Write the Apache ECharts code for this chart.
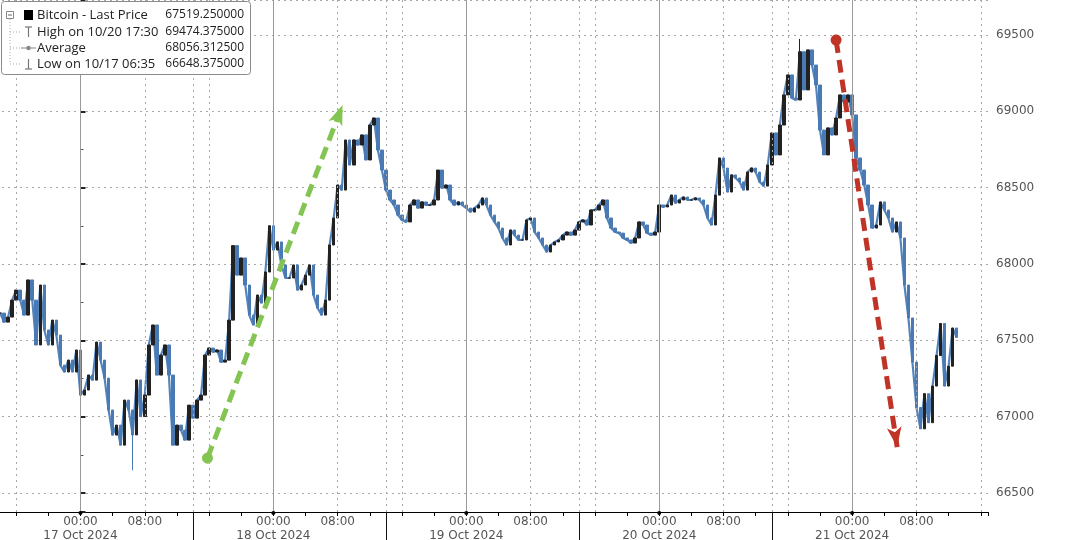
<!DOCTYPE html>
<html><head><meta charset="utf-8">
<script src="https://cdn.jsdelivr.net/npm/echarts@6/dist/echarts.min.js"></script>
<style>html,body{margin:0;padding:0;background:#fff;overflow:hidden;width:1080px;height:540px}#c{position:absolute;left:-16px;top:0;width:1096px;height:540px}</style>
</head><body><div id="c"></div>
<script>
// ---- data (hours are counted from 17 Oct 2024 00:00) ----
const dayLabels = ['17 Oct 2024', '18 Oct 2024', '19 Oct 2024', '20 Oct 2024', '21 Oct 2024'];
const firstHour = -10;   // 16 Oct 14:00
const stepHours = 0.5;   // 30-minute bars
// closes, 30-minute bars
const oct16 = [67678, 67619, 67652, 67763, 67829, 67763, 67665, 67895, 67763, 67469, 67862, 67567, 67469, 67632, 67534, 67337, 67292, 67370, 67292, 67436];
const oct17 = [67141, 67174, 67272, 67239, 67488, 67370, 67252, 67043, 66879, 66944, 66813, 67108, 67043, 66880, 67240, 67000, 67141, 67469, 67600, 67272, 67403, 67469, 67272, 66813, 66944, 66911, 66846, 67075, 66990, 67108, 67141, 67403, 67449, 67423, 67436, 67357, 67370, 67632, 68120, 67927, 68039, 67862, 67665, 67600, 67796, 67744, 67947, 68250];
const oct18 = [68091, 68144, 67993, 67908, 67908, 67993, 67829, 67862, 67927, 67993, 67796, 67711, 67665, 67763, 68124, 68301, 68517, 68484, 68812, 68648, 68812, 68779, 68845, 68681, 68910, 68956, 68746, 68615, 68484, 68419, 68386, 68320, 68288, 68275, 68386, 68419, 68366, 68406, 68386, 68386, 68419, 68615, 68497, 68517, 68419, 68386, 68406, 68386];
const oct19 = [68366, 68340, 68366, 68386, 68432, 68386, 68320, 68275, 68235, 68170, 68124, 68222, 68189, 68157, 68157, 68288, 68301, 68209, 68170, 68124, 68078, 68124, 68144, 68157, 68189, 68209, 68189, 68222, 68275, 68288, 68255, 68353, 68353, 68386, 68419, 68301, 68235, 68209, 68202, 68170, 68157, 68137, 68170, 68275, 68255, 68202, 68189, 68209];
const oct20 = [68386, 68373, 68386, 68451, 68399, 68419, 68438, 68419, 68419, 68432, 68419, 68386, 68301, 68255, 68451, 68694, 68628, 68471, 68583, 68563, 68537, 68484, 68602, 68628, 68602, 68537, 68510, 68648, 68858, 68714, 68910, 69107, 69238, 69087, 69074, 69390, 69140, 69402, 69303, 69172, 68877, 68714, 68891, 68845, 68956, 69107, 69061, 69107];
const oct21 = [68976, 68694, 68615, 68517, 68386, 68235, 68255, 68406, 68353, 68301, 68209, 68275, 68170, 67862, 67646, 67357, 67060, 66920, 67150, 66960, 67200, 67400, 67610, 67200, 67330, 67580, 67519.25];
const highMark = { hour: 89.5, value: 69474.375 };  // 10/20 17:30
const lowMark  = { hour: 6.5,  value: 66648.375 };  // 10/17 06:35
const lastPrice = 67519.25;
const legendLabels = ['Bitcoin - Last Price', 'High on 10/20 17:30', 'Average', 'Low on 10/17 06:35'];
const legendValues = ['67519.250000', '69474.375000', '68056.312500', '66648.375000'];
const greenArrow = { from: [15.8, 66728], to: [32.6, 69041] };
const redArrow   = { from: [94.0, 69467], to: [101.6, 66800] };

// ---- build ----
const closes = [].concat(oct16, oct17, oct18, oct19, oct20, oct21);
const hours = closes.map((c, i) => firstHour + i * stepHours);
const candles = closes.map((c, i) => {
  const o = i ? closes[i - 1] : c;
  const h = hours[i];
  let lo = Math.min(o, c), hi = Math.max(o, c);
  if (h === highMark.hour) hi = Math.max(hi, highMark.value);
  if (h === lowMark.hour) lo = Math.min(lo, lowMark.value);
  return [h, o, c, lo, hi];
});
const closeLine = closes.map((c, i) => [hours[i], c]);
const solidHours = dayLabels.map((d, k) => k * 24);
const dottedHours = [];
for (let k = -1; k < dayLabels.length; k++) {
  dottedHours.push(k * 24 + 8, k * 24 + 16);
  if (k >= 0 && k < dayLabels.length - 1) dottedHours.push(k * 24 + 14);
}
const sepHours = dayLabels.slice(0, -1).map((d, k) => k * 24 + 14);

const chart = echarts.init(document.getElementById('c'), null, { renderer: 'canvas' });
const FONT = 'DejaVu Sans';
const dotted = { color: '#a8a8a8', width: 1, type: [2, 4] };

chart.setOption({
  animation: false,
  backgroundColor: '#fff',
  grid: { left: 0, right: 92, top: 0, bottom: 28, outerBoundsMode: 'none', containLabel: false },
  xAxis: {
    type: 'value', min: -12, max: 112.9, interval: 4,
    axisLine: { show: true, lineStyle: { color: '#000', width: 1 } },
    axisTick: { show: true, length: 4, lineStyle: { color: '#000' } },
    splitLine: { show: false },
    axisLabel: {
      margin: 3, color: '#555', fontFamily: FONT, fontSize: 12, lineHeight: 14,
      formatter: function (v) {
        const h = Math.round(v);
        if (Math.abs(v - h) > 0.01) return '';
        const m = ((h % 24) + 24) % 24;
        const d = Math.floor(h / 24);
        if (m === 0 && d >= 0 && d < dayLabels.length) return '00:00\n' + dayLabels[d];
        if (m === 8) return '08:00';
        return '';
      }
    }
  },
  yAxis: {
    type: 'value', position: 'right', min: 66375, max: 69729, splitNumber: 5, scale: true,
    axisLine: { show: true, lineStyle: { color: '#000', width: 1 } },
    axisTick: { show: true, length: 5, lineStyle: { color: '#222', width: 2 } },
    minorTick: { show: true, splitNumber: 2, length: 3, lineStyle: { color: '#555' } },
    splitLine: { show: true, lineStyle: dotted },
    axisLabel: { margin: 8, color: '#555', fontFamily: FONT, fontSize: 12, showMinLabel: false, showMaxLabel: false,
      formatter: v => String(Math.round(v)) }
  },
  series: [
    {
      type: 'line', data: [], z: 1, silent: true,
      markLine: {
        silent: true, symbol: ['none', 'none'], label: { show: false },
        data: solidHours.map(h => ({ xAxis: h, lineStyle: { color: '#9a9a9a', width: 1, type: 'solid' } }))
          .concat(dottedHours.map(h => ({ xAxis: h, lineStyle: dotted })))
      }
    },
    {
      type: 'line', z: 2, data: closeLine, showSymbol: false, silent: true,
      lineStyle: { color: '#5584bb', width: 2.2 }
    },
    {
      type: 'candlestick', z: 3, data: candles, barWidth: 3,
      encode: { x: 0, y: [1, 2, 3, 4] },
      itemStyle: { color: '#222', color0: '#4a7ab3', borderColor: '#222', borderColor0: '#4a7ab3', borderWidth: 1 },
      markLine: {
        silent: true, symbol: ['none', 'none'],
        lineStyle: { opacity: 0 },
        label: {
          show: true, position: 'end', distance: 3, formatter: lastPrice.toFixed(6),
          backgroundColor: '#111', color: '#fff', padding: [2, 3, 2, 3], borderRadius: 2,
          fontFamily: FONT, fontSize: 11.5
        },
        data: [{ yAxis: lastPrice }]
      }
    },
    {
      type: 'line', data: [], z: 5, silent: true,
      markLine: {
        silent: true, label: { show: false }, symbol: ['circle', 'arrow'], symbolSize: [11, 20],
        data: [
          [{ coord: greenArrow.from, lineStyle: { color: '#84c452', width: 5, type: [13, 7] }, itemStyle: { color: '#84c452' } }, { coord: greenArrow.to }],
          [{ coord: redArrow.from, lineStyle: { color: '#bf3426', width: 5, type: [13, 7] }, itemStyle: { color: '#bf3426' } }, { coord: redArrow.to }]
        ]
      }
    }
  ]
});

// ---- legend box & axis decorations ----
const OX = 16; // container is shifted 16px left
const Z = 100;
const g = [];
g.push({ type: 'rect', z: Z, shape: { x: OX + 1.5, y: 1.5, width: 249, height: 73, r: 3 }, style: { fill: '#fff', stroke: '#8a8a8a', lineWidth: 1 } });
const rowY = [15, 32, 48, 64];
g.push({ type: 'rect', z: Z + 1, shape: { x: OX + 6.5, y: 11.5, width: 7, height: 7 }, style: { fill: '#fff', stroke: '#888', lineWidth: 1 } });
g.push({ type: 'line', z: Z + 1, shape: { x1: OX + 8, y1: 15, x2: OX + 12, y2: 15 }, style: { stroke: '#666', lineWidth: 1 } });
g.push({ type: 'line', z: Z + 1, shape: { x1: OX + 10, y1: 19, x2: OX + 10, y2: 64 }, style: { stroke: '#aaa', lineWidth: 1, lineDash: [1, 2] } });
rowY.slice(1).forEach(y => g.push({ type: 'line', z: Z + 1, shape: { x1: OX + 10, y1: y, x2: OX + 20, y2: y }, style: { stroke: '#aaa', lineWidth: 1, lineDash: [1, 2] } }));
g.push({ type: 'rect', z: Z + 1, shape: { x: OX + 24, y: 10, width: 9, height: 10 }, style: { fill: '#000' } });
g.push({ type: 'line', z: Z + 1, shape: { x1: OX + 28.5, y1: 27, x2: OX + 28.5, y2: 37 }, style: { stroke: '#777', lineWidth: 1.2 } });
g.push({ type: 'line', z: Z + 1, shape: { x1: OX + 25, y1: 27, x2: OX + 32, y2: 27 }, style: { stroke: '#777', lineWidth: 1.2 } });
g.push({ type: 'line', z: Z + 1, shape: { x1: OX + 21, y1: 48, x2: OX + 36, y2: 48 }, style: { stroke: '#999', lineWidth: 1.2 } });
g.push({ type: 'circle', z: Z + 1, shape: { cx: OX + 28.5, cy: 48, r: 2.2 }, style: { fill: '#888' } });
g.push({ type: 'line', z: Z + 1, shape: { x1: OX + 28.5, y1: 59, x2: OX + 28.5, y2: 69 }, style: { stroke: '#777', lineWidth: 1.2 } });
g.push({ type: 'line', z: Z + 1, shape: { x1: OX + 25, y1: 69, x2: OX + 32, y2: 69 }, style: { stroke: '#777', lineWidth: 1.2 } });
legendLabels.forEach((t, i) => {
  g.push({ type: 'text', z: Z + 1, x: OX + 37, y: rowY[i], style: { text: t, fill: '#222', font: '13px "Open Sans"', verticalAlign: 'middle', textVerticalAlign: 'middle' } });
  g.push({ type: 'text', z: Z + 1, x: OX + 244, y: rowY[i], style: { text: legendValues[i], fill: '#222', font: '12px "Open Sans"', align: 'right', textAlign: 'right', verticalAlign: 'middle', textVerticalAlign: 'middle' } });
});
const axisY = chart.convertToPixel({ yAxisIndex: 0 }, 66375);
sepHours.forEach(h => {
  const px = Math.round(chart.convertToPixel({ xAxisIndex: 0 }, h)) + 0.5;
  g.push({ type: 'line', z: 50, shape: { x1: px, y1: axisY, x2: px, y2: 540 }, style: { stroke: '#111', lineWidth: 1 } });
});
solidHours.forEach(h => {
  const px = chart.convertToPixel({ xAxisIndex: 0 }, h);
  g.push({ type: 'circle', z: 50, shape: { cx: px, cy: axisY + 1, r: 2 }, style: { fill: '#000' } });
});
chart.setOption({ graphic: g });
</script>
</body></html>
